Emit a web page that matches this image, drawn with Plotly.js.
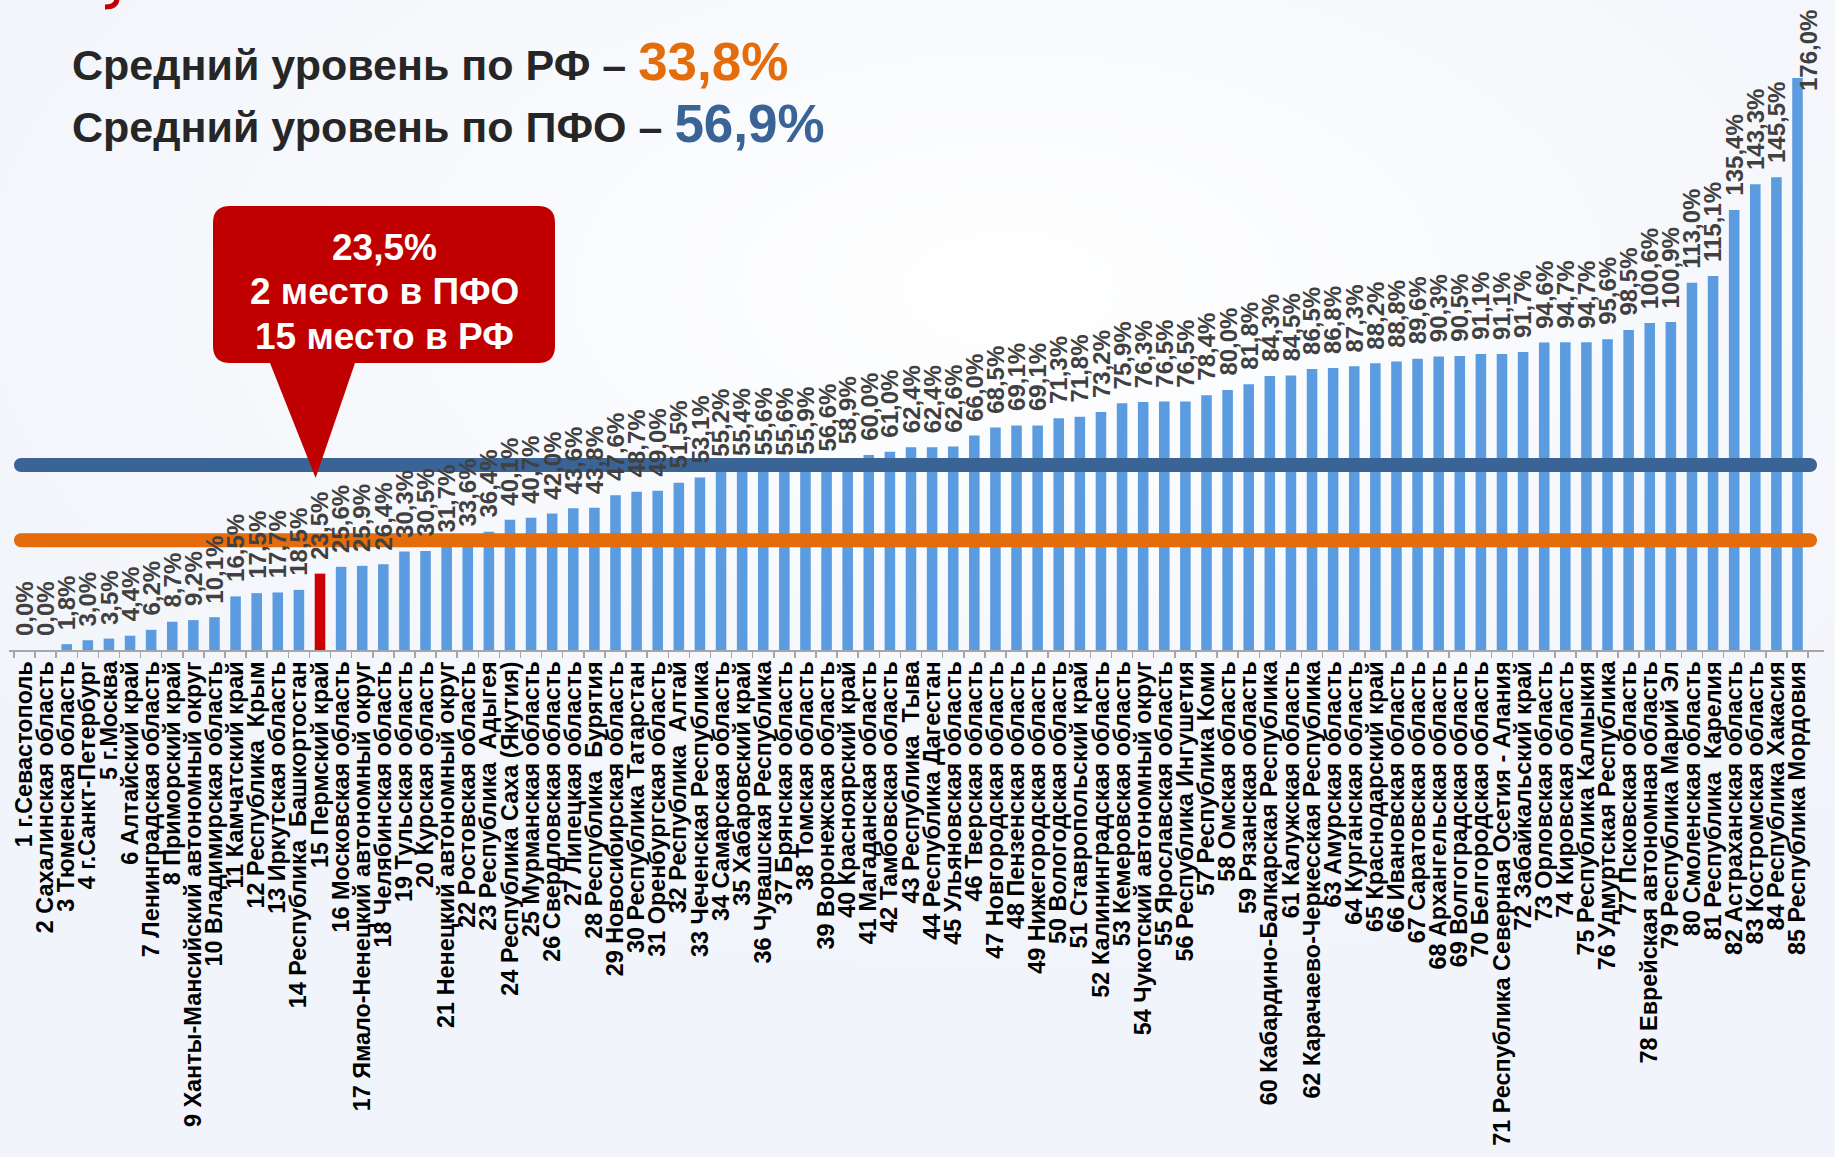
<!DOCTYPE html>
<html>
<head>
<meta charset="utf-8">
<script src="https://cdn.plot.ly/plotly-3.0.1.min.js"></script>
<style>
html,body{margin:0;padding:0;}
body{width:1835px;height:1157px;overflow:hidden;
background:radial-gradient(ellipse 70% 60% at 55% 25%, #ffffff 0%, #f6f8fc 55%, #f1f4fa 100%);}
#chart{width:1835px;height:1157px;}
</style>
</head>
<body>
<div id="chart"></div>
<script>
const regions = [
"1 г.Севастополь","2 Сахалинская область","3 Тюменская область","4 г.Санкт-Петербург","5 г.Москва",
"6 Алтайский край","7 Ленинградская область","8 Приморский край","9 Ханты-Мансийский автономный округ","10 Владимирская область",
"11 Камчатский край","12 Республика  Крым","13 Иркутская область","14 Республика  Башкортостан","15 Пермский край",
"16 Московская область","17 Ямало-Ненецкий автономный округ","18 Челябинская область","19 Тульская область","20 Курская область",
"21 Ненецкий автономный округ","22 Ростовская область","23 Республика  Адыгея","24 Республика Саха (Якутия)","25 Мурманская область",
"26 Свердловская область","27 Липецкая область","28 Республика  Бурятия","29 Новосибирская область","30 Республика Татарстан",
"31 Оренбургская область","32 Республика  Алтай","33 Чеченская Республика","34 Самарская область","35 Хабаровский край",
"36 Чувашская Республика","37 Брянская область","38 Томская область","39 Воронежская область","40 Красноярский край",
"41 Магаданская область","42 Тамбовская область","43 Республика  Тыва","44 Республика Дагестан","45 Ульяновская область",
"46 Тверская область","47 Новгородская область","48 Пензенская область","49 Нижегородская область","50 Вологодская область",
"51 Ставропольский край","52 Калининградская область","53 Кемеровская область","54 Чукотский автономный округ","55 Ярославская область",
"56 Республика Ингушетия","57 Республика Коми","58 Омская область","59 Рязанская область","60 Кабардино-Балкарская Республика",
"61 Калужская область","62 Карачаево-Черкесская Республика","63 Амурская область","64 Курганская область","65 Краснодарский край",
"66 Ивановская область","67 Саратовская область","68 Архангельская область","69 Волгоградская область","70 Белгородская область",
"71 Республика Северная Осетия - Алания","72 Забайкальский край","73 Орловская область","74 Кировская область","75 Республика Калмыкия",
"76 Удмуртская Республика","77 Псковская область","78 Еврейская автономная область","79 Республика Марий Эл","80 Смоленская область",
"81 Республика  Карелия","82 Астраханская область","83 Костромская область","84 Республика Хакасия","85 Республика Мордовия"
];
const values = [
0.0,0.0,1.8,3.0,3.5,4.4,6.2,8.7,9.2,10.1,
16.5,17.5,17.7,18.5,23.5,25.6,25.9,26.4,30.3,30.5,
31.7,33.6,36.4,40.1,40.7,42.0,43.6,43.8,47.6,48.7,
49.0,51.5,53.1,55.2,55.4,55.6,55.6,55.9,56.6,58.9,
60.0,61.0,62.4,62.4,62.6,66.0,68.5,69.1,69.1,71.3,
71.8,73.2,75.9,76.3,76.5,76.5,78.4,80.0,81.8,84.3,
84.5,86.5,86.8,87.3,88.2,88.8,89.6,90.3,90.5,91.1,
91.1,91.7,94.6,94.7,94.7,95.6,98.5,100.6,100.9,113.0,
115.1,135.4,143.3,145.5,176.0
];
const highlightIndex = 14;
const avgRF = 33.8;
const avgPFO = 56.9;
const avgLabels = ["Средний уровень по РФ – ", "Средний уровень по ПФО – "];
const calloutLines = ["23,5%", "2 место в ПФО", "15 место в РФ"];

// geometry (pixels)
const W = 1835, H = 1157;
const L = 9, R = 1824, T = 0, B = 650;
const PW = R - L, PH = B - T;
const yMax = 200;
const pxPerUnit = PH / yMax;
const px = x => (x - L) / PW;
const py = y => (B - y) / PH;

const FONT = 'Liberation Sans, Arial, Helvetica, sans-serif';
const fmt = v => v.toFixed(1).replace('.', ',') + '%';

const colors = values.map((v, i) => i === highlightIndex ? '#CC0000' : '#5B9BDF');

const bar = {
  type: 'bar', x: regions, y: values,
  marker: {color: colors, line: {width: 0}},
  hoverinfo: 'skip'
};

// pill-shaped average lines
function pill(val, x0pix, x1pix, thick, color) {
  const r = thick / 2;
  const rx = r / PW, ry = r / pxPerUnit, k = 0.5523;
  const a = px(x0pix + r), b = px(x1pix - r);
  const yc = val;
  const p = `M ${a},${yc + ry} L ${b},${yc + ry} ` +
    `C ${b + k*rx},${yc + ry} ${b + rx},${yc + k*ry} ${b + rx},${yc} ` +
    `C ${b + rx},${yc - k*ry} ${b + k*rx},${yc - ry} ${b},${yc - ry} ` +
    `L ${a},${yc - ry} ` +
    `C ${a - k*rx},${yc - ry} ${a - rx},${yc - k*ry} ${a - rx},${yc} ` +
    `C ${a - rx},${yc + k*ry} ${a - k*rx},${yc + ry} ${a},${yc + ry} Z`;
  return {type: 'path', xref: 'paper', yref: 'y', path: p, fillcolor: color,
          line: {width: 0}, layer: 'above'};
}

const P = (x, y) => `${px(x)},${py(y)}`;

// callout
function callout() {
  const x0 = 213, x1 = 555, y0 = 206, y1 = 363, r = 17;
  const tipX = L + (highlightIndex + 0.5) * PW / values.length - 3;
  const tipY = 478;
  const bl = 270, br = 355;
  const p = `M ${P(x0 + r, y0)} L ${P(x1 - r, y0)} Q ${P(x1, y0)} ${P(x1, y0 + r)} ` +
    `L ${P(x1, y1 - r)} Q ${P(x1, y1)} ${P(x1 - r, y1)} L ${P(br, y1)} L ${P(tipX, tipY)} ` +
    `L ${P(bl, y1)} L ${P(x0 + r, y1)} Q ${P(x0, y1)} ${P(x0, y1 - r)} L ${P(x0, y0 + r)} ` +
    `Q ${P(x0, y0)} ${P(x0 + r, y0)} Z`;
  return {type: 'path', xref: 'paper', yref: 'paper', path: p, fillcolor: '#C00000',
          line: {width: 0}, layer: 'above'};
}

// cut-off red fragment of the slide heading at the very top edge
const fragment = {type: 'path', xref: 'paper', yref: 'paper',
  path: `M ${P(117, -2)} Q ${P(117, 7)} ${P(105, 7)}`,
  line: {color: '#C00000', width: 5}, fillcolor: 'rgba(0,0,0,0)', layer: 'above'};

const shapes = [
  pill(avgRF, 14, 1817, 14, '#E46C0A'),
  pill(avgPFO, 14, 1817, 14, '#3A6496'),
  callout(),
  fragment
];

const annotations = [];
const labelSize = 24, labelShift = 12;
values.forEach((v, i) => {
  const t = fmt(v);
  const estLen = t.length * 0.57 * labelSize;
  const topPix = v * pxPerUnit + labelShift + estLen;
  if (topPix > PH) {
    annotations.push({xref: 'x', yref: 'paper', x: regions[i], y: 1, text: t,
      textangle: -90, xanchor: 'center', yanchor: 'top', xshift: 11, yshift: -8,
      showarrow: false, font: {family: FONT, size: labelSize, color: '#404040', weight: 'bold'}});
  } else {
    annotations.push({xref: 'x', yref: 'y', x: regions[i], y: v, text: t,
      textangle: -90, xanchor: 'center', yanchor: 'bottom', yshift: labelShift,
      showarrow: false, font: {family: FONT, size: labelSize, color: '#404040', weight: 'bold'}});
  }
});

// headline texts
annotations.push({xref: 'paper', yref: 'paper', x: px(70), y: py(93), xanchor: 'left', yanchor: 'bottom',
  showarrow: false, align: 'left',
  text: avgLabels[0] + `<span style="color:#E46C0A;font-size:53px">${fmt(avgRF)}</span>`,
  font: {family: FONT, size: 43, color: '#262626', weight: 'bold'}});
annotations.push({xref: 'paper', yref: 'paper', x: px(70), y: py(155), xanchor: 'left', yanchor: 'bottom',
  showarrow: false, align: 'left',
  text: avgLabels[1] + `<span style="color:#3A6496;font-size:53px">${fmt(avgPFO)}</span>`,
  font: {family: FONT, size: 43, color: '#262626', weight: 'bold'}});

// callout text, one line each
const calloutY = [247, 291, 336];
calloutLines.forEach((t, i) => {
  annotations.push({xref: 'paper', yref: 'paper', x: px(384), y: py(calloutY[i]), xanchor: 'center', yanchor: 'middle',
    showarrow: false, align: 'center', text: t,
    font: {family: FONT, size: 37, color: '#FFFFFF', weight: 'bold'}});
});

const layout = {
  width: W, height: H,
  margin: {l: L, r: W - R, t: T, b: H - B, pad: 0},
  paper_bgcolor: 'rgba(0,0,0,0)', plot_bgcolor: 'rgba(0,0,0,0)',
  showlegend: false, bargap: 0.5,
  xaxis: {
    type: 'category', tickmode: 'linear', dtick: 1, tickangle: -90, automargin: false,
    tickson: 'boundaries', ticks: 'outside', ticklen: 6, tickcolor: '#A6A6A6', tickwidth: 1.5,
    showline: true, linecolor: '#A6A6A6', linewidth: 2, showgrid: false, zeroline: false,
    tickfont: {family: FONT, size: 23.4, color: '#000000', weight: 'bold'}, fixedrange: true
  },
  yaxis: {range: [0, yMax], visible: false, showgrid: false, zeroline: false, fixedrange: true},
  shapes: shapes,
  annotations: annotations
};

Plotly.newPlot('chart', [bar], layout, {displayModeBar: false, staticPlot: true});
</script>
</body>
</html>
